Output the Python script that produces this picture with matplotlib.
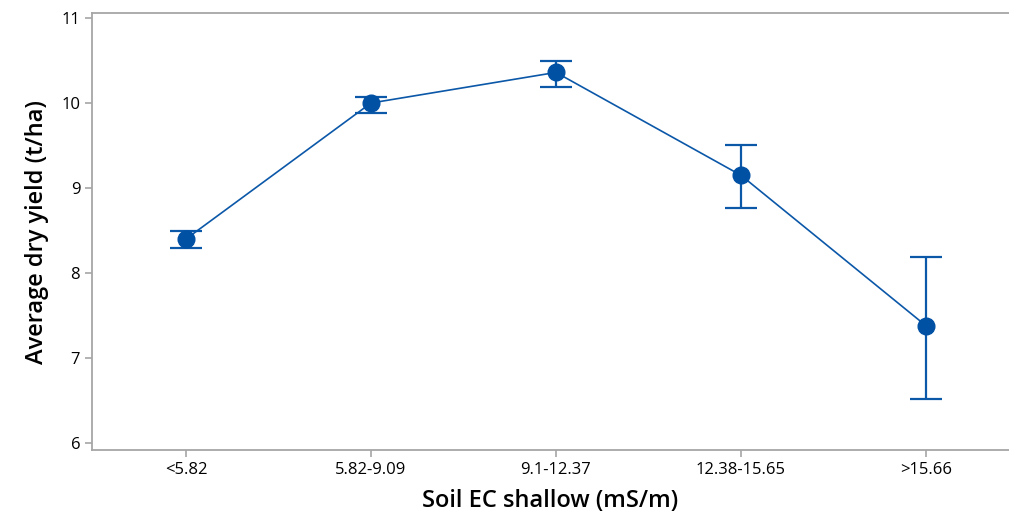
import matplotlib
matplotlib.use("Agg")
import matplotlib.pyplot as plt

# Mean dry yield per shallow soil EC class, with upper/lower interval ends
categories = ["<5.82", "5.82-9.09", "9.1-12.37", "12.38-15.65", ">15.66"]
mean_yield = [8.40, 10.00, 10.36, 9.15, 7.38]
upper = [8.49, 10.07, 10.49, 9.51, 8.19]
lower = [8.29, 9.88, 10.19, 8.76, 6.52]

BLUE = "#0b57a8"
GRAY = "#a6a6a6"

plt.rcParams["font.family"] = ["Open Sans", "DejaVu Sans"]

fig = plt.figure(figsize=(10.09, 5.16), dpi=100)
ax = fig.add_axes([92 / 1009, 1 - 450 / 516, 1 - 92 / 1009, (450 - 13) / 516])

x = list(range(len(categories)))
err = [[m - lo for m, lo in zip(mean_yield, lower)],
       [up - m for m, up in zip(mean_yield, upper)]]

ax.errorbar(x, mean_yield, yerr=err, fmt="none", ecolor=BLUE,
            elinewidth=1.6, capsize=11.5, capthick=1.6, zorder=2)
ax.plot(x, mean_yield, color=BLUE, lw=1.2, zorder=3)
ax.plot(x, mean_yield, "o", color="#0050a4", ms=12, zorder=4)

ax.set_xlim(-0.508, 4.449)
ax.set_ylim(5.918, 11.059)
ax.set_xticks(x)
ax.set_xticklabels(categories)
ax.set_yticks([6, 7, 8, 9, 10, 11])

for s in ax.spines.values():
    s.set_color(GRAY)
    s.set_linewidth(1.3)
ax.spines["right"].set_visible(False)  # frame runs off the right edge
ax.tick_params(colors=GRAY, labelcolor="black", length=5, width=1.2,
               labelsize=12)

ax.set_xlabel("Soil EC shallow (mS/m)", fontsize=17, fontweight="semibold",
              labelpad=8)
ax.set_ylabel("Average dry yield (t/ha)", fontsize=17, fontweight="semibold",
              labelpad=9)

fig.savefig("out.png", dpi=100)
